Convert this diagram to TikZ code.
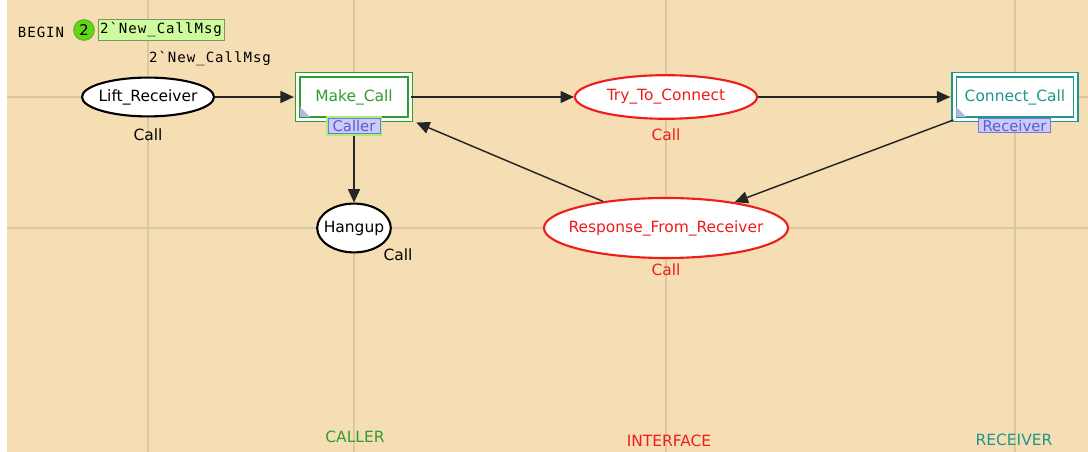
\documentclass[tikz,border=0pt]{standalone}
\usepackage{fontspec}
\setmainfont{DejaVu Sans}
\newfontfamily\inscfont[LetterSpace=7]{DejaVu Sans Mono}
\usepackage{tikz}
\usetikzlibrary{arrows.meta,shapes.geometric,calc}
\usepackage{xcolor}
\definecolor{cpnBg}{HTML}{F5DEB3}
\definecolor{cpnGrid}{HTML}{DBC7A4}
\definecolor{cpnGreen}{HTML}{2F9E2F}
\definecolor{cpnRed}{HTML}{F01C1C}
\definecolor{cpnTeal}{HTML}{1F968A}
\definecolor{cpnLav}{HTML}{C9CCF6}
\definecolor{cpnLavDark}{HTML}{7478DE}
\definecolor{cpnLavText}{HTML}{5A5CCF}
\definecolor{cpnToken}{HTML}{62D41C}
\definecolor{cpnMark}{HTML}{CDFB9E}
\definecolor{cpnGlow}{HTML}{A8EE7A}
\tikzset{
    % places and transitions
    cpnplace/.style={ellipse,draw=#1,fill=white,line width=1.5pt,inner sep=-3cm},
    cpnplace/.default=black,
    cpntrans/.style={rectangle,draw=#1,double=white,double distance=2.2pt,line width=1.1pt,fill=white,text=#1,minimum width=2.81cm,minimum height=1.11cm,inner sep=0pt},
    % labels
    colsetlabel/.style={inner sep=0pt},
    tagbox/.style={rectangle,draw=cpnLavDark,fill=cpnLav,text=cpnLavText,line width=0.6pt,inner sep=0pt,minimum height=0.37cm,font=\fontsize{10.5}{12}\selectfont},
    inscr/.style={inner sep=0pt,font=\inscfont\fontsize{10}{11}\selectfont},
    pagelabel/.style={inner sep=0pt},
    cornertri/.style={fill=cpnLav!90!black},
    % arcs
    arcflow/.style={-{Triangle[length=9.5pt,width=8.5pt]},line width=1.05pt,draw=black!85},
    gridline/.style={draw=cpnGrid,line width=1.4pt}
}

\begin{document}
\begin{tikzpicture}[x=0.025cm,y=-0.025cm,font=\fontsize{11}{13}\selectfont]
    % Page background
    \useasboundingbox (0,0) rectangle (1088,452);
    \fill[cpnBg] (7,0) rectangle (1088,452);

    % Grid lines
    \foreach \gx in {148,354,666,1015}
        \draw[gridline] (\gx,0) -- (\gx,452);
    \foreach \gy in {97,228}
        \draw[gridline] (7,\gy) -- (1088,\gy);

    % Initial marking
    \node[inscr] (begin) at (41,32) {BEGIN};
    \node[circle,fill=cpnToken,draw=cpnToken!80!black,line width=0.5pt,minimum size=0.52cm,inner sep=0pt,font=\fontsize{10.5}{11}\selectfont] (tok) at (84,30) {2};
    \node[inscr,fill=cpnMark,draw=cpnMark!60!black,line width=0.4pt,minimum width=3.15cm,minimum height=0.53cm] (mark) at (161,29.5) {2\char96 New\_CallMsg};
    \node[inscr] (init) at (210,59) {2\char96 New\_CallMsg};

    % Places
    \node[cpnplace,minimum width=3.3cm,minimum height=0.97cm] (lift) at (148,97) {Lift\_Receiver};
    \node[colsetlabel] (liftcs) at (148,135) {Call};
    \node[cpnplace=cpnRed,text=cpnRed,minimum width=4.55cm,minimum height=1.09cm] (try) at (666,97) {Try\_To\_Connect};
    \node[colsetlabel,text=cpnRed] (trycs) at (666,135) {Call};
    \node[cpnplace,minimum width=1.84cm,minimum height=1.22cm] (hang) at (354,228) {Hangup};
    \node[colsetlabel] (hangcs) at (398,255) {Call};
    \node[cpnplace=cpnRed,text=cpnRed,minimum width=6.1cm,minimum height=1.5cm] (resp) at (666,228) {Response\_From\_Receiver};
    \node[colsetlabel,text=cpnRed] (respcs) at (666,270) {Call};

    % Transitions
    \node[cpntrans=cpnGreen] (make) at (354,97) {Make\_Call};
    \node[cpntrans=cpnTeal,minimum width=3.04cm] (conn) at (1015,97) {Connect\_Call};
    \fill[cornertri] ([shift={(3,-3)}]make.south west) -- ++(0,-10) -- ++(10,10) -- cycle;
    \fill[cornertri] ([shift={(3,-3)}]conn.south west) -- ++(0,-10) -- ++(10,10) -- cycle;

    % Arcs
    \draw[arcflow,shorten >=2.3pt] (lift) -- (make);
    \draw[arcflow] (make) -- (try);
    \draw[arcflow,shorten >=2.3pt] (try) -- (conn);
    \draw[arcflow] (make.south) -- (hang);
    \draw[arcflow] (conn.south west) -- (resp);
    \draw[arcflow,shorten >=1pt] (resp) -- ([shift={(4,2)}]make.south east);

    % Module tags
    \node[tagbox,minimum width=1.3cm,preaction={draw=cpnGlow,line width=3pt}] (caller) at (354,126) {Caller};
    \node[tagbox,minimum width=1.78cm] (recv) at (1014.5,125.5) {Receiver};

    % Page names
    \node[pagelabel,text=cpnGreen] (pcaller) at (355,437) {CALLER};
    \node[pagelabel,text=cpnRed] (pinter) at (669,441) {INTERFACE};
    \node[pagelabel,text=cpnTeal] (precv) at (1014,440) {RECEIVER};
\end{tikzpicture}
\end{document}
